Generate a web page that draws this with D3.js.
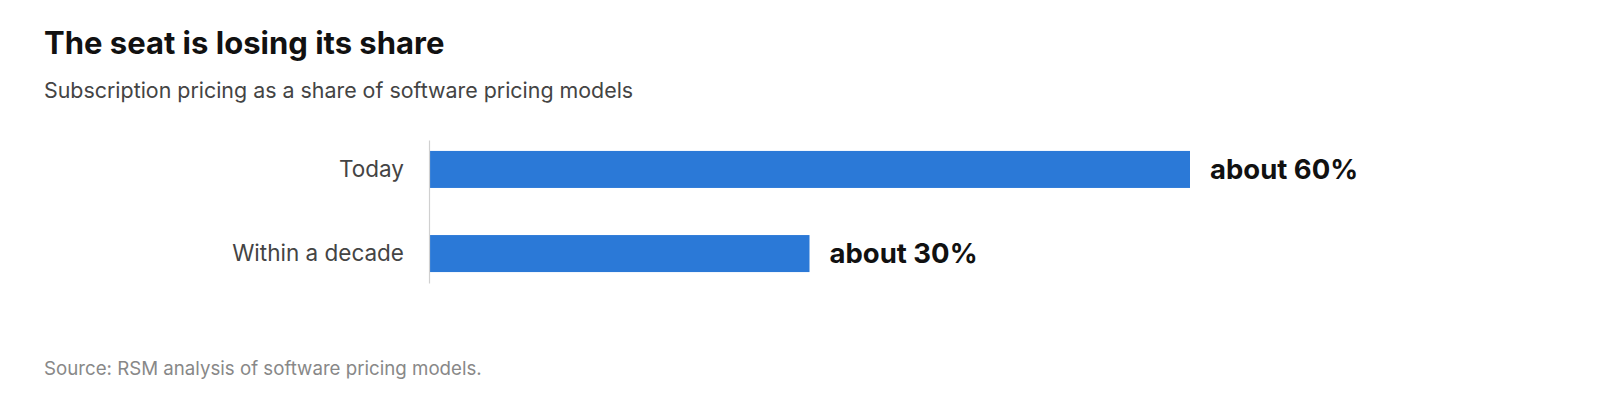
<!DOCTYPE html>
<html>
<head>
<meta charset="utf-8">
<script src="https://cdn.jsdelivr.net/npm/d3@7"></script>
<style>
  body { margin: 0; background: #fff; font-family: Inter, "Noto Sans", sans-serif; }
</style>
</head>
<body>
<div id="chart"></div>
<script>
// chart data
const categories = ["Today", "Within a decade"];
const values = [60, 30];
const valueLabels = ["about 60%", "about 30%"];

const title = "The seat is losing its share";
const subtitle = "Subscription pricing as a share of software pricing models";
const source = "Source: RSM analysis of software pricing models.";

var width = 1600, height = 410;
var margin = {top: 140, left: 429, bottom: 127};

var svg = d3.select("#chart")
  .append("svg")
    .attr("width", width)
    .attr("height", height);

// title + subtitle
svg.append("text")
  .attr("x", 44).attr("y", 54)
  .attr("font-size", 31).attr("font-weight", 700)
  .attr("fill", "#111")
  .text(title);

svg.append("text")
  .attr("x", 44).attr("y", 98)
  .attr("font-size", 21.4)
  .attr("fill", "#444")
  .text(subtitle);

// scales
var x = d3.scaleLinear()
  .domain([0, 60])
  .range([margin.left, 1190]);

var y = d3.scaleBand()
  .domain(categories)
  .range([margin.top, height - margin.bottom])
  .paddingInner(0.56)
  .paddingOuter(0.13);

// bars
svg.append("g")
  .selectAll("rect")
  .data(values)
  .join("rect")
    .attr("x", x(0))
    .attr("y", (d, i) => y(categories[i]))
    .attr("width", d => x(d) - x(0))
    .attr("height", y.bandwidth())
    .attr("fill", "#2b79d7");

// y axis (line only, labels on the left)
var yAxis = svg.append("g")
  .attr("transform", "translate(" + margin.left + ",0)")
  .call(d3.axisLeft(y).tickSize(0).tickPadding(25));
yAxis.select(".domain").attr("stroke", "#d0d0d0").attr("stroke-width", 1.2);
yAxis.selectAll("text")
  .attr("font-size", 22.5)
  .attr("font-family", "Inter, sans-serif")
  .attr("fill", "#444");

// value labels
svg.append("g")
  .selectAll("text")
  .data(values)
  .join("text")
    .attr("x", d => x(d) + 20)
    .attr("y", (d, i) => y(categories[i]) + y.bandwidth() / 2)
    .attr("dy", "0.36em")
    .attr("font-size", 27.5)
    .attr("font-weight", 700)
    .attr("fill", "#111")
    .text((d, i) => valueLabels[i]);

// source note
svg.append("text")
  .attr("x", 44).attr("y", 375)
  .attr("font-size", 18.7)
  .attr("fill", "#888")
  .text(source);
</script>
</body>
</html>
